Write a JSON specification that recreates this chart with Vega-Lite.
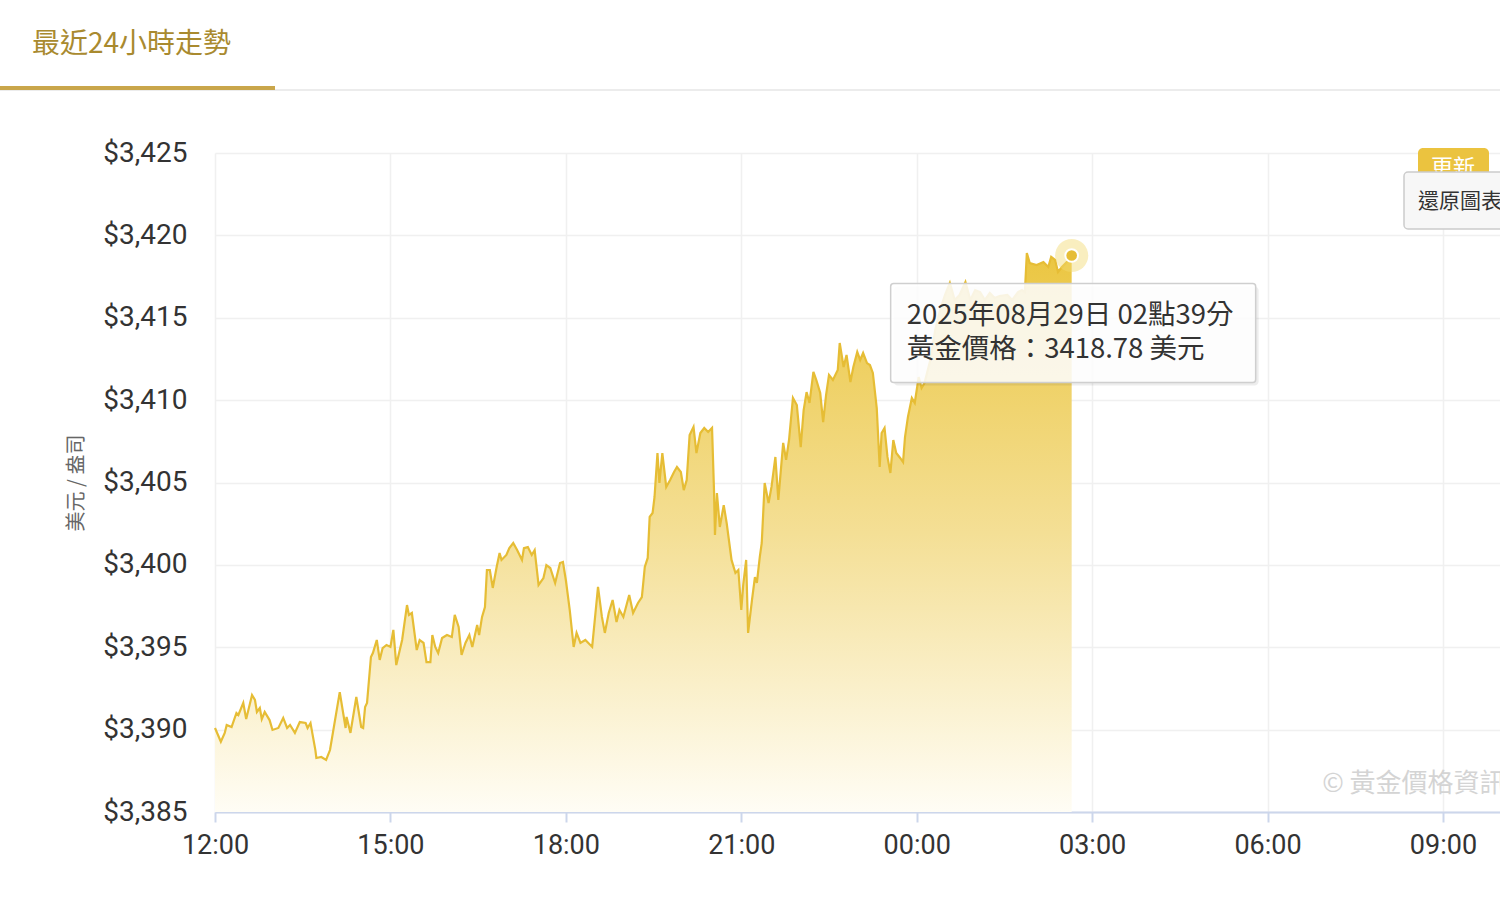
{
  "$schema": "https://vega.github.io/schema/vega-lite/v6.json",
  "autosize": "none",
  "width": 1285,
  "height": 659,
  "padding": {"left": 215, "top": 153, "right": 0, "bottom": 88},
  "background": "white",
  "config": {"view": {"stroke": null}, "font": "Roboto"},
  "title": {
    "text": "最近24小時走勢",
    "anchor": "start",
    "frame": "group",
    "dx": -183,
    "offset": 27,
    "font": "Noto Sans CJK TC",
    "fontSize": 28,
    "fontWeight": "normal",
    "color": "#a98a2f"
  },
  "datasets": {
    "gold": [
      {"t": "2025-08-28T12:00", "p": 3390.10},
      {"t": "2025-08-28T12:06", "p": 3389.27},
      {"t": "2025-08-28T12:10", "p": 3389.80},
      {"t": "2025-08-28T12:12", "p": 3390.28},
      {"t": "2025-08-28T12:17", "p": 3390.16},
      {"t": "2025-08-28T12:22", "p": 3391.01},
      {"t": "2025-08-28T12:24", "p": 3390.89},
      {"t": "2025-08-28T12:29", "p": 3391.62},
      {"t": "2025-08-28T12:32", "p": 3390.64},
      {"t": "2025-08-28T12:38", "p": 3392.10},
      {"t": "2025-08-28T12:41", "p": 3391.80},
      {"t": "2025-08-28T12:43", "p": 3391.07},
      {"t": "2025-08-28T12:46", "p": 3391.31},
      {"t": "2025-08-28T12:48", "p": 3390.64},
      {"t": "2025-08-28T12:51", "p": 3391.07},
      {"t": "2025-08-28T12:56", "p": 3390.58},
      {"t": "2025-08-28T12:59", "p": 3389.98},
      {"t": "2025-08-28T13:05", "p": 3390.10},
      {"t": "2025-08-28T13:10", "p": 3390.71},
      {"t": "2025-08-28T13:14", "p": 3390.10},
      {"t": "2025-08-28T13:17", "p": 3390.28},
      {"t": "2025-08-28T13:22", "p": 3389.80},
      {"t": "2025-08-28T13:27", "p": 3390.46},
      {"t": "2025-08-28T13:33", "p": 3390.40},
      {"t": "2025-08-28T13:35", "p": 3390.10},
      {"t": "2025-08-28T13:38", "p": 3390.40},
      {"t": "2025-08-28T13:43", "p": 3388.76},
      {"t": "2025-08-28T13:44", "p": 3388.28},
      {"t": "2025-08-28T13:49", "p": 3388.34},
      {"t": "2025-08-28T13:54", "p": 3388.16},
      {"t": "2025-08-28T13:58", "p": 3388.76},
      {"t": "2025-08-28T14:08", "p": 3392.28},
      {"t": "2025-08-28T14:14", "p": 3390.10},
      {"t": "2025-08-28T14:15", "p": 3390.77},
      {"t": "2025-08-28T14:19", "p": 3389.80},
      {"t": "2025-08-28T14:25", "p": 3391.98},
      {"t": "2025-08-28T14:30", "p": 3390.16},
      {"t": "2025-08-28T14:32", "p": 3390.10},
      {"t": "2025-08-28T14:34", "p": 3391.37},
      {"t": "2025-08-28T14:36", "p": 3391.62},
      {"t": "2025-08-28T14:40", "p": 3394.41},
      {"t": "2025-08-28T14:42", "p": 3394.65},
      {"t": "2025-08-28T14:46", "p": 3395.44},
      {"t": "2025-08-28T14:49", "p": 3394.23},
      {"t": "2025-08-28T14:52", "p": 3394.95},
      {"t": "2025-08-28T14:56", "p": 3395.14},
      {"t": "2025-08-28T15:00", "p": 3395.02},
      {"t": "2025-08-28T15:03", "p": 3396.05},
      {"t": "2025-08-28T15:06", "p": 3393.92},
      {"t": "2025-08-28T15:12", "p": 3395.44},
      {"t": "2025-08-28T15:17", "p": 3397.56},
      {"t": "2025-08-28T15:19", "p": 3396.96},
      {"t": "2025-08-28T15:22", "p": 3397.08},
      {"t": "2025-08-28T15:27", "p": 3394.83},
      {"t": "2025-08-28T15:30", "p": 3395.44},
      {"t": "2025-08-28T15:34", "p": 3395.26},
      {"t": "2025-08-28T15:37", "p": 3394.10},
      {"t": "2025-08-28T15:41", "p": 3394.10},
      {"t": "2025-08-28T15:43", "p": 3395.74},
      {"t": "2025-08-28T15:46", "p": 3395.02},
      {"t": "2025-08-28T15:49", "p": 3394.65},
      {"t": "2025-08-28T15:53", "p": 3395.56},
      {"t": "2025-08-28T15:58", "p": 3395.74},
      {"t": "2025-08-28T16:03", "p": 3395.62},
      {"t": "2025-08-28T16:06", "p": 3396.96},
      {"t": "2025-08-28T16:10", "p": 3396.23},
      {"t": "2025-08-28T16:13", "p": 3394.53},
      {"t": "2025-08-28T16:17", "p": 3395.26},
      {"t": "2025-08-28T16:21", "p": 3395.74},
      {"t": "2025-08-28T16:24", "p": 3395.02},
      {"t": "2025-08-28T16:29", "p": 3396.35},
      {"t": "2025-08-28T16:31", "p": 3395.74},
      {"t": "2025-08-28T16:34", "p": 3396.84},
      {"t": "2025-08-28T16:37", "p": 3397.44},
      {"t": "2025-08-28T16:39", "p": 3399.69},
      {"t": "2025-08-28T16:42", "p": 3399.69},
      {"t": "2025-08-28T16:45", "p": 3398.60},
      {"t": "2025-08-28T16:49", "p": 3399.87},
      {"t": "2025-08-28T16:52", "p": 3400.72},
      {"t": "2025-08-28T16:54", "p": 3400.30},
      {"t": "2025-08-28T16:59", "p": 3400.60},
      {"t": "2025-08-28T17:02", "p": 3401.02},
      {"t": "2025-08-28T17:06", "p": 3401.33},
      {"t": "2025-08-28T17:10", "p": 3400.90},
      {"t": "2025-08-28T17:15", "p": 3400.30},
      {"t": "2025-08-28T17:17", "p": 3401.02},
      {"t": "2025-08-28T17:21", "p": 3401.08},
      {"t": "2025-08-28T17:25", "p": 3400.60},
      {"t": "2025-08-28T17:28", "p": 3400.90},
      {"t": "2025-08-28T17:32", "p": 3398.78},
      {"t": "2025-08-28T17:37", "p": 3399.20},
      {"t": "2025-08-28T17:40", "p": 3399.99},
      {"t": "2025-08-28T17:44", "p": 3399.81},
      {"t": "2025-08-28T17:49", "p": 3398.90},
      {"t": "2025-08-28T17:54", "p": 3400.11},
      {"t": "2025-08-28T17:57", "p": 3400.17},
      {"t": "2025-08-28T18:00", "p": 3399.08},
      {"t": "2025-08-28T18:04", "p": 3397.26},
      {"t": "2025-08-28T18:08", "p": 3395.02},
      {"t": "2025-08-28T18:11", "p": 3395.87},
      {"t": "2025-08-28T18:15", "p": 3395.26},
      {"t": "2025-08-28T18:20", "p": 3395.44},
      {"t": "2025-08-28T18:27", "p": 3395.02},
      {"t": "2025-08-28T18:30", "p": 3396.84},
      {"t": "2025-08-28T18:33", "p": 3398.66},
      {"t": "2025-08-28T18:37", "p": 3396.84},
      {"t": "2025-08-28T18:40", "p": 3395.87},
      {"t": "2025-08-28T18:44", "p": 3397.08},
      {"t": "2025-08-28T18:48", "p": 3397.87},
      {"t": "2025-08-28T18:52", "p": 3396.53},
      {"t": "2025-08-28T18:55", "p": 3397.26},
      {"t": "2025-08-28T18:59", "p": 3396.84},
      {"t": "2025-08-28T19:05", "p": 3398.17},
      {"t": "2025-08-28T19:09", "p": 3397.08},
      {"t": "2025-08-28T19:14", "p": 3397.69},
      {"t": "2025-08-28T19:18", "p": 3398.05},
      {"t": "2025-08-28T19:21", "p": 3399.87},
      {"t": "2025-08-28T19:24", "p": 3400.42},
      {"t": "2025-08-28T19:26", "p": 3402.91},
      {"t": "2025-08-28T19:29", "p": 3403.15},
      {"t": "2025-08-28T19:31", "p": 3404.12},
      {"t": "2025-08-28T19:34", "p": 3406.79},
      {"t": "2025-08-28T19:36", "p": 3404.97},
      {"t": "2025-08-28T19:39", "p": 3406.79},
      {"t": "2025-08-28T19:43", "p": 3404.73},
      {"t": "2025-08-28T19:47", "p": 3405.15},
      {"t": "2025-08-28T19:51", "p": 3405.64},
      {"t": "2025-08-28T19:54", "p": 3405.94},
      {"t": "2025-08-28T19:58", "p": 3405.64},
      {"t": "2025-08-28T20:01", "p": 3404.54},
      {"t": "2025-08-28T20:04", "p": 3405.15},
      {"t": "2025-08-28T20:07", "p": 3407.88},
      {"t": "2025-08-28T20:11", "p": 3408.37},
      {"t": "2025-08-28T20:14", "p": 3406.79},
      {"t": "2025-08-28T20:18", "p": 3408.00},
      {"t": "2025-08-28T20:22", "p": 3408.31},
      {"t": "2025-08-28T20:26", "p": 3408.07},
      {"t": "2025-08-28T20:30", "p": 3408.31},
      {"t": "2025-08-28T20:32", "p": 3404.54},
      {"t": "2025-08-28T20:33", "p": 3401.81},
      {"t": "2025-08-28T20:35", "p": 3404.36},
      {"t": "2025-08-28T20:38", "p": 3402.30},
      {"t": "2025-08-28T20:42", "p": 3403.63},
      {"t": "2025-08-28T20:45", "p": 3402.54},
      {"t": "2025-08-28T20:50", "p": 3400.30},
      {"t": "2025-08-28T20:54", "p": 3399.51},
      {"t": "2025-08-28T20:57", "p": 3399.69},
      {"t": "2025-08-28T21:00", "p": 3397.26},
      {"t": "2025-08-28T21:02", "p": 3398.78},
      {"t": "2025-08-28T21:05", "p": 3400.30},
      {"t": "2025-08-28T21:07", "p": 3395.87},
      {"t": "2025-08-28T21:11", "p": 3397.87},
      {"t": "2025-08-28T21:14", "p": 3399.26},
      {"t": "2025-08-28T21:16", "p": 3398.90},
      {"t": "2025-08-28T21:19", "p": 3400.48},
      {"t": "2025-08-28T21:21", "p": 3401.33},
      {"t": "2025-08-28T21:24", "p": 3404.97},
      {"t": "2025-08-28T21:28", "p": 3403.76},
      {"t": "2025-08-28T21:31", "p": 3404.73},
      {"t": "2025-08-28T21:35", "p": 3406.55},
      {"t": "2025-08-28T21:38", "p": 3403.94},
      {"t": "2025-08-28T21:43", "p": 3407.40},
      {"t": "2025-08-28T21:46", "p": 3406.37},
      {"t": "2025-08-28T21:49", "p": 3407.58},
      {"t": "2025-08-28T21:53", "p": 3410.13},
      {"t": "2025-08-28T21:57", "p": 3409.70},
      {"t": "2025-08-28T22:01", "p": 3407.15},
      {"t": "2025-08-28T22:04", "p": 3409.40},
      {"t": "2025-08-28T22:07", "p": 3410.49},
      {"t": "2025-08-28T22:10", "p": 3409.83},
      {"t": "2025-08-28T22:14", "p": 3411.71},
      {"t": "2025-08-28T22:17", "p": 3411.22},
      {"t": "2025-08-28T22:21", "p": 3410.43},
      {"t": "2025-08-28T22:24", "p": 3408.67},
      {"t": "2025-08-28T22:27", "p": 3410.31},
      {"t": "2025-08-28T22:30", "p": 3411.53},
      {"t": "2025-08-28T22:34", "p": 3411.22},
      {"t": "2025-08-28T22:39", "p": 3411.83},
      {"t": "2025-08-28T22:41", "p": 3413.47},
      {"t": "2025-08-28T22:45", "p": 3412.01},
      {"t": "2025-08-28T22:48", "p": 3412.74},
      {"t": "2025-08-28T22:52", "p": 3411.10},
      {"t": "2025-08-28T22:55", "p": 3412.01},
      {"t": "2025-08-28T22:59", "p": 3412.92},
      {"t": "2025-08-28T23:02", "p": 3412.44},
      {"t": "2025-08-28T23:05", "p": 3412.86},
      {"t": "2025-08-28T23:09", "p": 3412.25},
      {"t": "2025-08-28T23:12", "p": 3412.13},
      {"t": "2025-08-28T23:15", "p": 3411.65},
      {"t": "2025-08-28T23:19", "p": 3409.52},
      {"t": "2025-08-28T23:22", "p": 3405.94},
      {"t": "2025-08-28T23:24", "p": 3408.00},
      {"t": "2025-08-28T23:27", "p": 3408.31},
      {"t": "2025-08-28T23:30", "p": 3406.55},
      {"t": "2025-08-28T23:33", "p": 3405.58},
      {"t": "2025-08-28T23:36", "p": 3407.58},
      {"t": "2025-08-28T23:39", "p": 3406.79},
      {"t": "2025-08-28T23:43", "p": 3406.49},
      {"t": "2025-08-28T23:46", "p": 3406.24},
      {"t": "2025-08-28T23:48", "p": 3407.76},
      {"t": "2025-08-28T23:51", "p": 3408.98},
      {"t": "2025-08-28T23:55", "p": 3410.13},
      {"t": "2025-08-28T23:58", "p": 3409.83},
      {"t": "2025-08-29T00:02", "p": 3411.40},
      {"t": "2025-08-29T00:05", "p": 3410.74},
      {"t": "2025-08-29T00:08", "p": 3411.04},
      {"t": "2025-08-29T00:14", "p": 3412.44},
      {"t": "2025-08-29T00:19", "p": 3414.26},
      {"t": "2025-08-29T00:24", "p": 3415.47},
      {"t": "2025-08-29T00:29", "p": 3416.38},
      {"t": "2025-08-29T00:34", "p": 3417.11},
      {"t": "2025-08-29T00:39", "p": 3416.08},
      {"t": "2025-08-29T00:44", "p": 3416.38},
      {"t": "2025-08-29T00:50", "p": 3417.17},
      {"t": "2025-08-29T00:55", "p": 3416.08},
      {"t": "2025-08-29T01:00", "p": 3416.68},
      {"t": "2025-08-29T01:05", "p": 3416.56},
      {"t": "2025-08-29T01:10", "p": 3416.08},
      {"t": "2025-08-29T01:15", "p": 3416.50},
      {"t": "2025-08-29T01:20", "p": 3416.20},
      {"t": "2025-08-29T01:25", "p": 3416.32},
      {"t": "2025-08-29T01:33", "p": 3416.38},
      {"t": "2025-08-29T01:38", "p": 3416.08},
      {"t": "2025-08-29T01:44", "p": 3416.56},
      {"t": "2025-08-29T01:48", "p": 3416.68},
      {"t": "2025-08-29T01:51", "p": 3416.56},
      {"t": "2025-08-29T01:53", "p": 3418.93},
      {"t": "2025-08-29T01:56", "p": 3418.32},
      {"t": "2025-08-29T02:03", "p": 3418.20},
      {"t": "2025-08-29T02:10", "p": 3418.38},
      {"t": "2025-08-29T02:15", "p": 3418.08},
      {"t": "2025-08-29T02:18", "p": 3418.69},
      {"t": "2025-08-29T02:22", "p": 3418.51},
      {"t": "2025-08-29T02:25", "p": 3417.78},
      {"t": "2025-08-29T02:29", "p": 3418.08},
      {"t": "2025-08-29T02:34", "p": 3418.38},
      {"t": "2025-08-29T02:39", "p": 3418.78}
    ]
  },
  "layer": [
    {
      "data": {"name": "gold"},
      "mark": {
        "type": "area",
        "line": false,
        "color": {"gradient": "linear", "x1": 0, "y1": 1, "x2": 0, "y2": 0,
          "stops": [{"offset": 0, "color": "#fffdf5"}, {"offset": 0.5, "color": "#f4df95"}, {"offset": 1, "color": "#ebc641"}]}
      },
      "encoding": {
        "x": {
          "field": "t", "type": "temporal",
          "scale": {"domain": [{"year": 2025, "month": 8, "date": 28, "hours": 12}, {"year": 2025, "month": 8, "date": 29, "hours": 9, "minutes": 58, "seconds": 30}], "nice": false},
          "axis": {
            "title": null,
            "format": "%H:%M",
            "tickCount": 8,
            "labelFont": "Roboto",
            "labelFontSize": 27,
            "labelColor": "#333333",
            "labelPadding": 10,
            "labelFlush": false,
            "labelOverlap": false,
            "grid": true,
            "gridColor": "#f0f0f0",
            "gridWidth": 1.5,
            "domainColor": "#ccd6eb",
            "domainWidth": 2,
            "tickColor": "#ccd6eb",
            "tickWidth": 2,
            "tickSize": 10
          }
        },
        "y": {
          "field": "p", "type": "quantitative",
          "scale": {"domain": [3385, 3425], "nice": false, "zero": false},
          "axis": {
            "title": "美元 / 盎司",
            "titleFont": "Noto Sans CJK TC",
            "titleFontSize": 20,
            "titleFontWeight": "normal",
            "titleColor": "#666666",
            "titlePadding": 16,
            "values": [3385, 3390, 3395, 3400, 3405, 3410, 3415, 3420, 3425],
            "format": "$,.0f",
            "labelFont": "Roboto",
            "labelFontSize": 28,
            "labelColor": "#333333",
            "labelPadding": 28,
            "ticks": false,
            "domain": false,
            "grid": true,
            "gridColor": "#f0f0f0",
            "gridWidth": 1.5
          }
        },
        "y2": {"datum": 3385}
      }
    },
    {
      "data": {"name": "gold"},
      "mark": {"type": "line", "color": "#e6bd35", "strokeWidth": 2.2},
      "encoding": {
        "x": {"field": "t", "type": "temporal"},
        "y": {"field": "p", "type": "quantitative"}
      }
    },
    {
      "data": {"values": [{}]},
      "mark": {"type": "rule", "color": "#ececec", "strokeWidth": 2, "xOffset": -215, "x2Offset": 10, "yOffset": -63},
      "encoding": {
        "x": {"datum": {"year": 2025, "month": 8, "date": 28, "hours": 12}, "type": "temporal"},
        "x2": {"datum": {"year": 2025, "month": 8, "date": 29, "hours": 9, "minutes": 58, "seconds": 30}},
        "y": {"datum": 3425, "type": "quantitative"}
      }
    },
    {
      "data": {"values": [{}]},
      "mark": {"type": "rule", "color": "#c9a64b", "strokeWidth": 4, "xOffset": -215, "x2Offset": 60, "yOffset": -65},
      "encoding": {
        "x": {"datum": {"year": 2025, "month": 8, "date": 28, "hours": 12}, "type": "temporal"},
        "x2": {"datum": {"year": 2025, "month": 8, "date": 28, "hours": 12}},
        "y": {"datum": 3425, "type": "quantitative"}
      }
    },
    {
      "data": {"values": [{}]},
      "mark": {"type": "point", "filled": true, "size": 1100, "color": "#f2d970", "opacity": 0.45},
      "encoding": {
        "x": {"datum": {"year": 2025, "month": 8, "date": 29, "hours": 2, "minutes": 39}, "type": "temporal"},
        "y": {"datum": 3418.78, "type": "quantitative"}
      }
    },
    {
      "data": {"values": [{}]},
      "mark": {"type": "point", "filled": true, "size": 160, "color": "#e6bd35", "stroke": "#ffffff", "strokeWidth": 2, "opacity": 1},
      "encoding": {
        "x": {"datum": {"year": 2025, "month": 8, "date": 29, "hours": 2, "minutes": 39}, "type": "temporal"},
        "y": {"datum": 3418.78, "type": "quantitative"}
      }
    },
    {
      "data": {"values": [{}]},
      "mark": {"type": "rect", "color": "#000000", "opacity": 0.07, "cornerRadius": 4, "xOffset": -178, "x2Offset": 187, "yOffset": 31, "y2Offset": 130},
      "encoding": {
        "x": {"datum": {"year": 2025, "month": 8, "date": 29, "hours": 2, "minutes": 39}, "type": "temporal"},
        "x2": {"datum": {"year": 2025, "month": 8, "date": 29, "hours": 2, "minutes": 39}},
        "y": {"datum": 3418.78, "type": "quantitative"},
        "y2": {"datum": 3418.78}
      }
    },
    {
      "data": {"values": [{}]},
      "mark": {"type": "rect", "fill": "#ffffff", "fillOpacity": 0.86, "stroke": "#cfcfcf", "strokeWidth": 1.5, "cornerRadius": 3, "xOffset": -181, "x2Offset": 184, "yOffset": 28, "y2Offset": 127},
      "encoding": {
        "x": {"datum": {"year": 2025, "month": 8, "date": 29, "hours": 2, "minutes": 39}, "type": "temporal"},
        "x2": {"datum": {"year": 2025, "month": 8, "date": 29, "hours": 2, "minutes": 39}},
        "y": {"datum": 3418.78, "type": "quantitative"},
        "y2": {"datum": 3418.78}
      }
    },
    {
      "data": {"values": [{}]},
      "mark": {"type": "text", "align": "left", "baseline": "middle", "font": "Noto Sans CJK TC", "fontSize": 27.5, "color": "#333333", "dx": -165, "dy": 61},
      "encoding": {
        "x": {"datum": {"year": 2025, "month": 8, "date": 29, "hours": 2, "minutes": 39}, "type": "temporal"},
        "y": {"datum": 3418.78, "type": "quantitative"},
        "text": {"value": "2025年08月29日 02點39分"}
      }
    },
    {
      "data": {"values": [{}]},
      "mark": {"type": "text", "align": "left", "baseline": "middle", "font": "Noto Sans CJK TC", "fontSize": 27.5, "color": "#333333", "dx": -165, "dy": 95},
      "encoding": {
        "x": {"datum": {"year": 2025, "month": 8, "date": 29, "hours": 2, "minutes": 39}, "type": "temporal"},
        "y": {"datum": 3418.78, "type": "quantitative"},
        "text": {"value": "黃金價格：3418.78 美元"}
      }
    },
    {
      "data": {"values": [{}]},
      "mark": {"type": "text", "align": "left", "baseline": "middle", "font": "Noto Sans CJK TC", "fontSize": 26, "color": "#d4d4d4"},
      "encoding": {
        "x": {"datum": {"year": 2025, "month": 8, "date": 29, "hours": 6, "minutes": 56}, "type": "temporal"},
        "y": {"datum": 3386.7, "type": "quantitative"},
        "text": {"value": "© 黃金價格資訊"}
      }
    },
    {
      "data": {"values": [{}]},
      "mark": {"type": "rect", "color": "#ebc33f", "cornerRadius": 5, "xOffset": -82, "x2Offset": -11, "yOffset": -5, "y2Offset": 25},
      "encoding": {
        "x": {"datum": {"year": 2025, "month": 8, "date": 29, "hours": 9, "minutes": 58, "seconds": 30}, "type": "temporal"},
        "x2": {"datum": {"year": 2025, "month": 8, "date": 29, "hours": 9, "minutes": 58, "seconds": 30}},
        "y": {"datum": 3425, "type": "quantitative"},
        "y2": {"datum": 3425}
      }
    },
    {
      "data": {"values": [{}]},
      "mark": {"type": "text", "align": "center", "baseline": "middle", "font": "Noto Sans CJK TC", "fontSize": 22, "color": "#ffffff", "dx": -47, "dy": 15},
      "encoding": {
        "x": {"datum": {"year": 2025, "month": 8, "date": 29, "hours": 9, "minutes": 58, "seconds": 30}, "type": "temporal"},
        "y": {"datum": 3425, "type": "quantitative"},
        "text": {"value": "更新"}
      }
    },
    {
      "data": {"values": [{}]},
      "mark": {"type": "rect", "fill": "#f7f7f7", "stroke": "#cccccc", "strokeWidth": 1.5, "cornerRadius": 4, "xOffset": -96, "x2Offset": 20, "yOffset": 19, "y2Offset": 76},
      "encoding": {
        "x": {"datum": {"year": 2025, "month": 8, "date": 29, "hours": 9, "minutes": 58, "seconds": 30}, "type": "temporal"},
        "x2": {"datum": {"year": 2025, "month": 8, "date": 29, "hours": 9, "minutes": 58, "seconds": 30}},
        "y": {"datum": 3425, "type": "quantitative"},
        "y2": {"datum": 3425}
      }
    },
    {
      "data": {"values": [{}]},
      "mark": {"type": "text", "align": "left", "baseline": "middle", "font": "Noto Sans CJK TC", "fontSize": 21, "color": "#333333", "dx": -82, "dy": 49},
      "encoding": {
        "x": {"datum": {"year": 2025, "month": 8, "date": 29, "hours": 9, "minutes": 58, "seconds": 30}, "type": "temporal"},
        "y": {"datum": 3425, "type": "quantitative"},
        "text": {"value": "還原圖表"}
      }
    }
  ]
}
